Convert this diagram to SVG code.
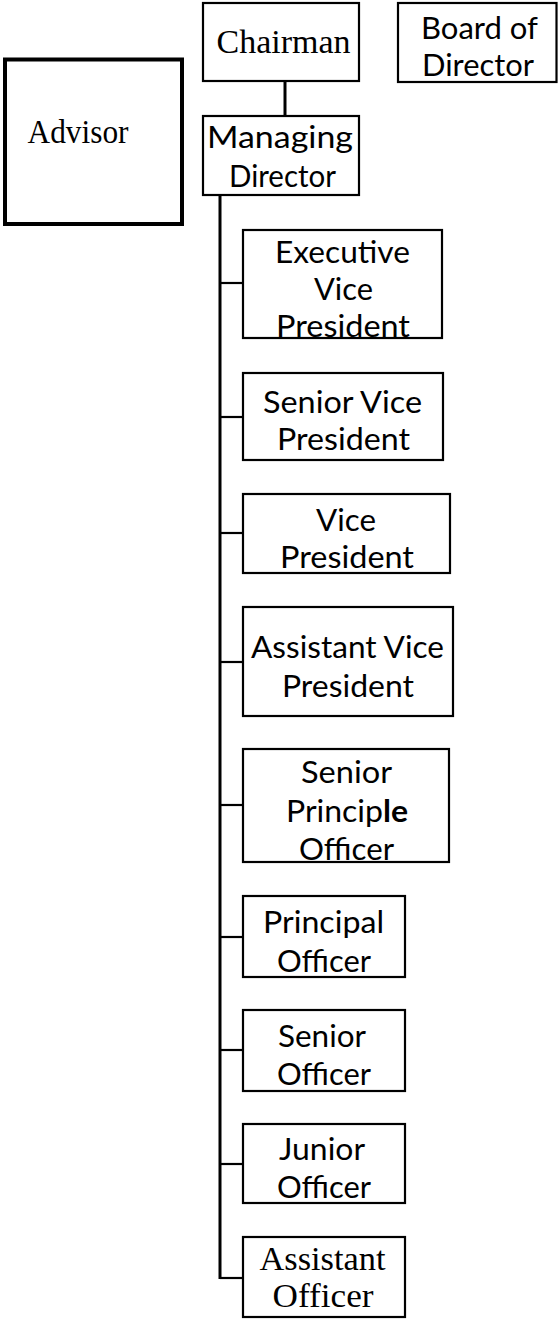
<svg xmlns="http://www.w3.org/2000/svg" width="558" height="1320" viewBox="0 0 558 1320">
  <style>
    .box { fill: none; stroke: #000; stroke-width: 2.2; }
    .thick { fill: none; stroke: #000; stroke-width: 4; }
    .sans { font-family: Lato, "Open Sans", "Liberation Sans", sans-serif; font-size: 30px; fill: #000; text-anchor: middle; }
    .serif { font-family: "Liberation Serif", "Times New Roman", serif; font-size: 34px; fill: #000; text-anchor: middle; }
    .link { stroke: #000; fill: none; }
  </style>
  <rect width="558" height="1320" fill="#fff"/>

  <!-- reporting lines -->
  <g id="connectors" class="link">
    <line x1="285" y1="81" x2="285" y2="116" stroke-width="3"/>
    <line x1="220" y1="195" x2="220" y2="1279" stroke-width="3"/>
    <g stroke-width="2.2">
      <line x1="220" y1="283" x2="243" y2="283"/>
      <line x1="220" y1="417" x2="243" y2="417"/>
      <line x1="220" y1="533" x2="243" y2="533"/>
      <line x1="220" y1="662" x2="243" y2="662"/>
      <line x1="220" y1="805" x2="243" y2="805"/>
      <line x1="220" y1="937" x2="243" y2="937"/>
      <line x1="220" y1="1050" x2="243" y2="1050"/>
      <line x1="220" y1="1164" x2="243" y2="1164"/>
      <line x1="220" y1="1278" x2="243" y2="1278"/>
    </g>
  </g>

  <g id="advisor">
    <text class="serif" x="78" y="143" font-size="31.5" textLength="101" lengthAdjust="spacingAndGlyphs">Advisor</text>
    <rect class="thick" x="5" y="59.5" width="177" height="164.5"/>
  </g>

  <g id="chairman">
    <text class="serif" x="283.5" y="53" textLength="134" lengthAdjust="spacingAndGlyphs">Chairman</text>
    <rect class="box" x="203" y="3" width="156" height="78"/>
  </g>

  <g id="board-of-director">
    <text class="sans" x="479.5" y="39" textLength="117" lengthAdjust="spacingAndGlyphs">Board of</text>
    <text class="sans" x="478" y="76" textLength="112" lengthAdjust="spacingAndGlyphs">Director</text>
    <rect class="box" x="398" y="3" width="158.5" height="79"/>
  </g>

  <g id="managing-director">
    <text class="sans" x="280" y="148" textLength="146" lengthAdjust="spacingAndGlyphs">Managing</text>
    <text class="sans" x="282.5" y="187" textLength="107" lengthAdjust="spacingAndGlyphs">Director</text>
    <rect class="box" x="203" y="116" width="156" height="79"/>
  </g>

  <g id="executive-vice-president">
    <text class="sans" x="342.5" y="263" textLength="135" lengthAdjust="spacingAndGlyphs">Executive</text>
    <text class="sans" x="343.5" y="300" textLength="59" lengthAdjust="spacingAndGlyphs">Vice</text>
    <text class="sans" x="343" y="337" textLength="134" lengthAdjust="spacingAndGlyphs">President</text>
    <rect class="box" x="243" y="230" width="199" height="108"/>
  </g>

  <g id="senior-vice-president">
    <text class="sans" x="342.5" y="413" textLength="159" lengthAdjust="spacingAndGlyphs">Senior Vice</text>
    <text class="sans" x="343.5" y="450" textLength="133" lengthAdjust="spacingAndGlyphs">President</text>
    <rect class="box" x="243" y="373" width="200" height="87"/>
  </g>

  <g id="vice-president">
    <text class="sans" x="346" y="531" textLength="60" lengthAdjust="spacingAndGlyphs">Vice</text>
    <text class="sans" x="347" y="568" textLength="134" lengthAdjust="spacingAndGlyphs">President</text>
    <rect class="box" x="243" y="494" width="207" height="79"/>
  </g>

  <g id="assistant-vice-president">
    <text class="sans" x="347.5" y="658" textLength="193" lengthAdjust="spacingAndGlyphs">Assistant Vice</text>
    <text class="sans" x="348" y="697" textLength="132" lengthAdjust="spacingAndGlyphs">President</text>
    <rect class="box" x="243" y="607" width="210" height="109"/>
  </g>

  <g id="senior-principle-officer">
    <text class="sans" x="346.5" y="783" textLength="91" lengthAdjust="spacingAndGlyphs">Senior</text>
    <text class="sans" x="347" y="822" textLength="122" lengthAdjust="spacingAndGlyphs">Princip<tspan font-weight="bold">le</tspan></text>
    <text class="sans" x="346.5" y="860" textLength="95" lengthAdjust="spacingAndGlyphs">Officer</text>
    <rect class="box" x="243" y="749" width="206" height="113"/>
  </g>

  <g id="principal-officer">
    <text class="sans" x="323.5" y="933" textLength="121" lengthAdjust="spacingAndGlyphs">Principal</text>
    <text class="sans" x="324" y="972" textLength="94" lengthAdjust="spacingAndGlyphs">Officer</text>
    <rect class="box" x="243" y="896" width="162" height="81"/>
  </g>

  <g id="senior-officer">
    <text class="sans" x="322" y="1047" textLength="88" lengthAdjust="spacingAndGlyphs">Senior</text>
    <text class="sans" x="324" y="1085" textLength="94" lengthAdjust="spacingAndGlyphs">Officer</text>
    <rect class="box" x="243" y="1010" width="162" height="81"/>
  </g>

  <g id="junior-officer">
    <text class="sans" x="322" y="1160" textLength="86" lengthAdjust="spacingAndGlyphs">Junior</text>
    <text class="sans" x="324" y="1198" textLength="94" lengthAdjust="spacingAndGlyphs">Officer</text>
    <rect class="box" x="243" y="1124" width="162" height="79"/>
  </g>

  <g id="assistant-officer">
    <text class="serif" x="322.5" y="1270" textLength="126" lengthAdjust="spacingAndGlyphs">Assistant</text>
    <text class="serif" x="323" y="1307" textLength="101" lengthAdjust="spacingAndGlyphs">Officer</text>
    <rect class="box" x="243" y="1237" width="162" height="80"/>
  </g>
</svg>
